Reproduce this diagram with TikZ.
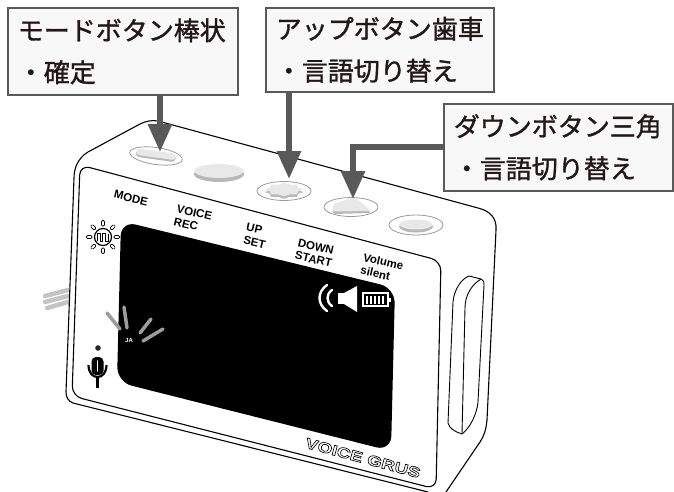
\documentclass[tikz,border=0pt]{standalone}
\usepackage{fontspec}
\setmainfont{Liberation Sans}
\newfontfamily\jpfont[FakeBold=1.2]{Noto Sans CJK JP}
\newfontfamily\brandfont[FakeStretch=1.3]{Liberation Sans}
\usetikzlibrary{arrows.meta}

\definecolor{calloutgray}{HTML}{595959}
\definecolor{boxfill}{HTML}{F8F8F8}
\definecolor{inktext}{HTML}{231815}
\definecolor{btnlight}{HTML}{E8E8E8}
\definecolor{btnshade}{HTML}{B8B8B8}
\definecolor{ringgray}{HTML}{9A9A9A}
\definecolor{raygray}{HTML}{9C9C9C}
\definecolor{tabgray}{HTML}{C4C4C4}

% stroke-only text (text render mode 1)
\newcommand{\hollowtext}[1]{\special{pdf:literal direct 1 Tr 0.65 w}#1\special{pdf:literal direct 0 Tr}}

\begin{document}
\begin{tikzpicture}[x=1pt,y=-1pt,
  bodyline/.style={draw=black, line width=1.1pt, line join=round},
  calloutbox/.style={draw=calloutgray, line width=1.6pt, fill=boxfill,
    anchor=north west, inner xsep=10pt, inner ysep=0pt, align=left,
    font=\jpfont\fontsize{26}{42}\selectfont, text=inktext, minimum height=#1},
  pointer/.style={draw=calloutgray, line width=6pt,
    -{Triangle[length=28pt,width=23pt]}},
  btnring/.style={draw=ringgray, line width=0.8pt, fill=white},
  facelabel/.style={font=\bfseries\fontsize{11.5}{13}\selectfont,
    align=left, inner sep=0pt, rotate=-13},
  ray/.style={draw=raygray, line width=3.5pt, line cap=round},
  brandtext/.style={font=\brandfont\bfseries\fontsize{14.5}{15}\selectfont,
    rotate=-15, inner sep=0pt},
]
\useasboundingbox (0,0) rectangle (674,492);

% strap tab on the left side
\draw[tabgray, line width=4.5pt, line cap=round] (45,296) -- (68,290);
\draw[tabgray, line width=4.5pt, line cap=round] (45,302) -- (68,296);
\draw[tabgray, line width=4.5pt, line cap=round] (47,308) -- (68,302);

% body silhouette
\fill[white] (428,492) -- (73,403) -- (66,392) -- (74,178) -- (88,152) -- (140,124)
  -- (158,121) -- (478,208) -- (496,230) -- (487,420) -- (446,492) -- cycle;
\draw[bodyline] (428,492) -- (73,403) .. controls (68,401) and (66,397) .. (66,392)
  -- (74,178) .. controls (74,168) and (78,158) .. (88,152) -- (140,124)
  .. controls (146,121) and (152,120) .. (158,121) -- (478,208)
  .. controls (490,211) and (497,218) .. (496,230) -- (487,420)
  .. controls (486,430) and (484,436) .. (480,442) -- (446,492);

% front panel
\draw[bodyline, rounded corners=10pt] (80,165) -- (441,261) -- (436,489) -- (72,396) -- cycle;

% side slide switch
\draw[bodyline, line width=0.9pt] (448,423) -- (453,302)
  .. controls (454,290) and (461,279) .. (469,276) -- (481,279)
  .. controls (484,280) and (484,282) .. (484,285) -- (478,402)
  .. controls (477,414) and (470,428) .. (462,434)
  .. controls (455,432) and (449,428) .. (448,423) -- cycle;
\draw[bodyline, line width=0.9pt] (481,279) .. controls (471,285) and (465,296) .. (465,308) -- (462,434);

% display
\fill[black, rounded corners=15pt] (121,221) -- (395,288) -- (391,451) -- (117,382) -- cycle;

% speaker and battery on the display
\draw[white, line width=2.4pt, line cap=round] (327,285) .. controls (317,292) and (317,304) .. (327,311);
\draw[white, line width=2.4pt, line cap=round] (332,290) .. controls (326,294) and (326,302) .. (332,306);
\fill[white] (338,293) rectangle (344,304);
\fill[white] (344,293) -- (357,286) -- (357,312) -- (344,304) -- cycle;
\draw[white, line width=1.2pt] (363,293) rectangle (388,306);
\fill[white] (388,297.5) rectangle (390.5,301.5);
\foreach \bx in {366,370,374,378,382}
  \fill[white] (\bx,295.5) rectangle ({\bx+2.2},303.5);

% language rays with JA
\draw[ray] (107,313) -- (120,329);
\draw[ray] (124,307) -- (127,328);
\draw[ray] (140,333) -- (151,319);
\draw[ray] (143,341) -- (163,329);
\node[text=white, font=\bfseries\fontsize{6}{6}\selectfont, inner sep=0pt] (ja) at (129,340) {JA};

% brightness dial icon
\draw[line width=1.2pt, fill=white] (103,237) circle[radius=8.5pt];
\draw[line width=0.9pt, line join=round] (97.5,240.5) -- (97.5,233) -- (100.2,233) -- (100.2,241)
  -- (102.9,241) -- (102.9,233) -- (105.6,233) -- (105.6,241) -- (108.3,241) -- (108.3,234);
\foreach \a in {0,45,...,315}
  \draw[line width=0.7pt, rounded corners=1.2pt, rotate around={\a:(103,237)}]
    (114,235.5) rectangle (119.5,238.5);

% microphone icon
\fill[black!85] (98,348) circle[radius=2.8pt];
\fill[black, rounded corners=4.5pt] (91.5,357) rectangle (103.5,375);
\draw[white, line width=1.6pt, line cap=round] (97.5,361) -- (97.5,371);
\draw[line width=2.2pt] (88.5,365) .. controls (88.5,381) and (106.5,381) .. (106.5,365);
\draw[line width=2.2pt] (97.5,378) -- (97.5,388);

% top buttons: MODE bar
\draw[btnring, rotate around={-8:(156,156)}] (156,156) ellipse[x radius=26.5pt, y radius=8.5pt];
\begin{scope}[shift={(156,155)}, rotate=-8]
  \fill[btnshade, rounded corners=3.5pt] (-20,-2.5) rectangle (20,4.5);
  \fill[btnlight, rounded corners=3.5pt] (-20,-4) rectangle (20,2.5);
\end{scope}
% VOICE REC round button
\fill[btnshade] (219,174) ellipse[x radius=25pt, y radius=8pt];
\fill[btnlight] (219,171) ellipse[x radius=24.5pt, y radius=7pt];
% UP gear button
\draw[btnring] (284,191) ellipse[x radius=27pt, y radius=9.5pt];
\begin{scope}[shift={(284,192)}, yscale=0.36]
  \fill[btnshade, rounded corners=1.5pt] (20,0) \foreach \a/\r in
    {22.5/14,45/20,67.5/14,90/20,112.5/14,135/20,157.5/14,180/20,
     202.5/14,225/20,247.5/14,270/20,292.5/14,315/20,337.5/14} { -- (\a:\r) } -- cycle;
\end{scope}
\begin{scope}[shift={(284,189.5)}, yscale=0.36]
  \fill[btnlight, rounded corners=1.5pt] (20,0) \foreach \a/\r in
    {22.5/14,45/20,67.5/14,90/20,112.5/14,135/20,157.5/14,180/20,
     202.5/14,225/20,247.5/14,270/20,292.5/14,315/20,337.5/14} { -- (\a:\r) } -- cycle;
\end{scope}
% DOWN triangle button
\draw[btnring] (351,207) ellipse[x radius=27pt, y radius=9.5pt];
\fill[btnshade, rounded corners=2pt] (333,206) -- (355,199) -- (371,213) -- (333,214) -- cycle;
\fill[btnlight, rounded corners=2pt] (333,204) -- (355,197) -- (371,211) -- (333,211.5) -- cycle;
% Volume round button
\draw[btnring] (416,225) ellipse[x radius=27pt, y radius=10pt];
\fill[btnshade] (416,226.5) ellipse[x radius=17pt, y radius=6pt];
\fill[btnlight] (416,224.5) ellipse[x radius=16.5pt, y radius=5pt];

% printed button names
\node[facelabel] (lmode) at (131,198) {MODE};
\node[facelabel] (lvoice) at (193,219) {VOICE\\REC};
\node[facelabel] (lup) at (256,236) {UP\\SET};
\node[facelabel] (ldown) at (315,253) {DOWN\\START};
\node[facelabel] (lvol) at (382,268) {Volume\\silent};

% outlined brand name
\node[brandtext, text=black] (brand) at (363,458) {\hollowtext{VOICE GRUS}};

% callout boxes
\node[calloutbox=87pt, text width=210pt] (b1) at (7,7) {モードボタン棒状\\・確定};
\node[calloutbox=84pt, text width=208pt] (b2) at (265,7) {アップボタン歯車\\・言語切り替え};
\node[calloutbox=87pt, text width=209pt] (b3) at (443,103) {ダウンボタン三角\\・言語切り替え};

% callout arrows
\coordinate (t1) at (160,152);
\coordinate (t2) at (289,179);
\coordinate (t3) at (353,199);
\draw[pointer] (b1.south -| t1) -- (t1);
\draw[pointer] (b2.south -| t2) -- (t2);
\draw[pointer] (b3.west) -| (t3);
\end{tikzpicture}
\end{document}
